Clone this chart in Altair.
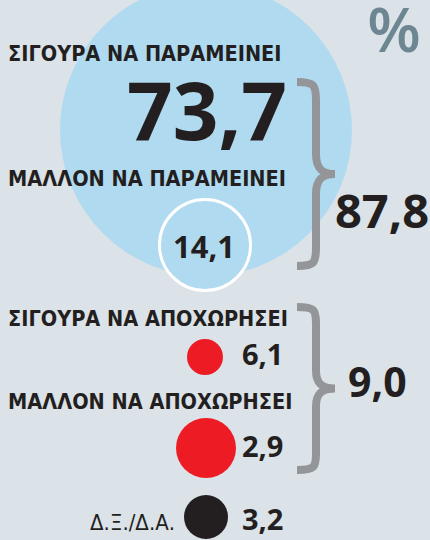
import altair as alt
import pandas as pd

# ---------------- data ----------------
labels = ["ΣΙΓΟΥΡΑ ΝΑ ΠΑΡΑΜΕΙΝΕΙ", "ΜΑΛΛΟΝ ΝΑ ΠΑΡΑΜΕΙΝΕΙ",
          "ΣΙΓΟΥΡΑ ΝΑ ΑΠΟΧΩΡΗΣΕΙ", "ΜΑΛΛΟΝ ΝΑ ΑΠΟΧΩΡΗΣΕΙ", "Δ.Ξ./Δ.Α."]
values = [73.7, 14.1, 6.1, 2.9, 3.2]
group_totals = [87.8, 9.0]
unit_label = "%"

# ---------------- layout (pixels) ----------------
circle_cx = [206, 205, 205, 206, 206]
circle_cy = [130, 245, 357, 448, 517]
circle_r = [146, 45.5, 18, 30, 22]
circle_fill = ["#b0daf0", "#b0daf0", "#ed1c24", "#ed1c24", "#231f20"]
circle_stroke = ["transparent", "#ffffff", "transparent", "transparent", "transparent"]

label_x = [8, 8, 8, 8, 175]
label_y = [61, 186, 326, 409, 530]

value_x = [207, 204, 242, 242, 242]
value_y = [140, 258, 365, 457, 530]
value_size = [80, 31, 29, 29, 29]

brace_cx = [316, 316]
brace_cy = [174, 388.5]
brace_h = [184, 163]
total_x = [335, 348]
total_y = [228, 397]
total_size = [47, 41]

BG = "#dbe2e8"
INK = "#231f20"
GRAY = "#939598"
NUM_FONT = "Open Sans"
LAB_FONT = "DejaVu Sans Condensed"


def fmt(v):
    return f"{v:.1f}".replace(".", ",")


X = lambda: alt.X("x:Q", scale=alt.Scale(domain=[0, 430], nice=False, zero=False), axis=None)
Y = lambda: alt.Y("y:Q", scale=alt.Scale(domain=[0, 540], nice=False, zero=False, reverse=True), axis=None)

circles = pd.DataFrame({
    "label": labels, "value": values,
    "x": circle_cx, "y": circle_cy,
    "s": [(2 * r) ** 2 for r in circle_r],
    "fill": circle_fill, "stroke": circle_stroke,
})

circle_layer = alt.Chart(circles).mark_point(shape="circle", filled=True, opacity=1, strokeWidth=3).encode(
    x=X(), y=Y(),
    size=alt.Size("s:Q", scale=None, legend=None),
    fill=alt.Fill("fill:N", scale=None, legend=None),
    stroke=alt.Stroke("stroke:N", scale=None, legend=None),
)

# braces
def brace_path(half_w):
    w = half_w
    return (f"M {-w} -1 C {-w*0.1} -1 0 -0.97 0 -0.8 "
            f"L 0 -0.22 C 0 -0.06 {w*0.3} 0 {w} 0 "
            f"C {w*0.3} 0 0 0.06 0 0.22 "
            f"L 0 0.8 C 0 0.97 {-w*0.1} 1 {-w} 1")

brace_layers = []
for i in range(2):
    half = brace_h[i] / 2
    bdf = pd.DataFrame({"total": [group_totals[i]], "x": [brace_cx[i]], "y": [brace_cy[i]],
                        "s": [brace_h[i] ** 2]})
    brace_layers.append(
        alt.Chart(bdf).mark_point(shape=brace_path(19 / half), filled=False, opacity=1,
                                  strokeWidth=8, color=GRAY, strokeCap="butt").encode(
            x=X(), y=Y(), size=alt.Size("s:Q", scale=None, legend=None))
    )

# labels
lab_df = pd.DataFrame({"text": labels[:4], "x": label_x[:4], "y": label_y[:4]})
label_layer = alt.Chart(lab_df).mark_text(
    align="left", baseline="alphabetic", font=LAB_FONT, fontWeight="bold", fontSize=21.5, color=INK
).encode(x=X(), y=Y(), text="text:N")

dk_df = pd.DataFrame({"text": [labels[4]], "x": [label_x[4]], "y": [label_y[4]]})
dk_layer = alt.Chart(dk_df).mark_text(
    align="right", baseline="alphabetic", font=LAB_FONT, fontSize=22, color=INK
).encode(x=X(), y=Y(), text="text:N")

# values
val_df = pd.DataFrame({"text": [fmt(v) for v in values], "x": value_x, "y": value_y,
                       "fs": value_size})
val_center = alt.Chart(val_df.iloc[:2]).mark_text(
    align="center", baseline="alphabetic", font=NUM_FONT, fontWeight="bold", color=INK
).encode(x=X(), y=Y(), text="text:N", size=alt.Size("fs:Q", scale=None, legend=None))
val_left = alt.Chart(val_df.iloc[2:]).mark_text(
    align="left", baseline="alphabetic", font=NUM_FONT, fontWeight="bold", color=INK
).encode(x=X(), y=Y(), text="text:N", size=alt.Size("fs:Q", scale=None, legend=None))

tot_df = pd.DataFrame({"text": [fmt(v) for v in group_totals], "x": total_x, "y": total_y,
                       "fs": total_size})
tot_layer = alt.Chart(tot_df).mark_text(
    align="left", baseline="alphabetic", font=NUM_FONT, fontWeight="bold", color=INK
).encode(x=X(), y=Y(), text="text:N", size=alt.Size("fs:Q", scale=None, legend=None))

pct_df = pd.DataFrame({"text": [unit_label], "x": [394], "y": [52]})
pct_layer = alt.Chart(pct_df).mark_text(
    align="center", baseline="alphabetic", font=NUM_FONT, fontWeight=600, fontSize=62, color="#6d8792"
).encode(x=X(), y=Y(), text="text:N")

chart = alt.layer(
    circle_layer, *brace_layers, label_layer, dk_layer, val_center, val_left, tot_layer, pct_layer
).properties(
    width=430, height=540, background=BG, padding=0, autosize="none"
).configure_view(stroke=None)

chart.save("out.html", embed_options={"renderer": "svg", "actions": False})
